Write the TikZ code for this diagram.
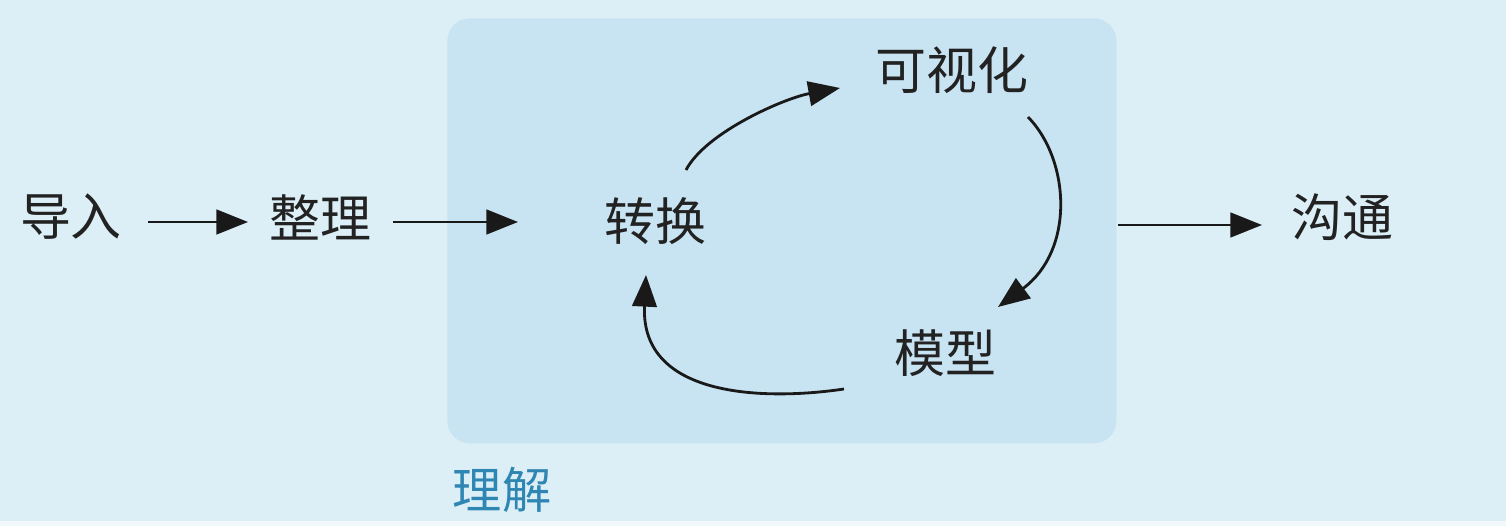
\documentclass[tikz,border=0pt]{standalone}
\usepackage{fontspec}
\newfontfamily\cjk{Noto Sans CJK SC}
\usetikzlibrary{arrows.meta}
\definecolor{bgc}{HTML}{DCEFF7}
\definecolor{boxc}{HTML}{C8E4F2}
\definecolor{txtc}{HTML}{222222}
\definecolor{lblc}{HTML}{2F86B2}
\tikzset{
  word/.style={inner sep=0pt, text=txtc, font=\cjk\fontsize{29}{29}\selectfont},
  arr/.style={line width=1.6pt, draw=black!90, -{Triangle[length=18pt,width=14pt]}},
}
\begin{document}
\begin{tikzpicture}[x=0.02cm,y=-0.02cm]
\fill[bgc] (0,0) rectangle (1506,526);
\useasboundingbox (0,0) rectangle (1506,526);
\fill[white!60!bgc] (0,521) rectangle (1506,526);
\node[draw=none, fill=boxc, rounded corners=0.45cm, minimum width=669*0.02cm, minimum height=425*0.02cm, anchor=north west] (box) at (447,18) {};
\node[word] (a) at (71,217) {导入};
\node[word] (b) at (320,217) {整理};
\node[word] (c) at (655,221) {转换};
\node[word] (d) at (952,70) {可视化};
\node[word] (e) at (945,353) {模型};
\node[word] (f) at (1342,217) {沟通};
\node[inner sep=0pt, text=lblc, font=\cjk\fontsize{28}{28}\selectfont] (lbl) at (502,490) {理解};
\coordinate (a1) at (148,222); \coordinate (a2) at (248,222);
\coordinate (b1) at (393,222); \coordinate (b2) at (518,222);
\coordinate (c1) at (1118,225); \coordinate (c2) at (1262,225);
\coordinate (t1) at (686,170); \coordinate (t2) at (840,88);
\coordinate (v1) at (1028,117); \coordinate (v2) at (998,307);
\coordinate (m1) at (844,389); \coordinate (m2) at (646,275);
\draw[arr] (a1) -- (a2);
\draw[arr] (b1) -- (b2);
\draw[arr] (c1) -- (c2);
\draw[arr] (t1) .. controls (706,132) and (785,98) .. (t2);
\draw[arr] (v1) .. controls (1070,160) and (1075,250) .. (v2);
\draw[arr] (m1) .. controls (770,400) and (640,400) .. (m2);
\end{tikzpicture}
\end{document}
